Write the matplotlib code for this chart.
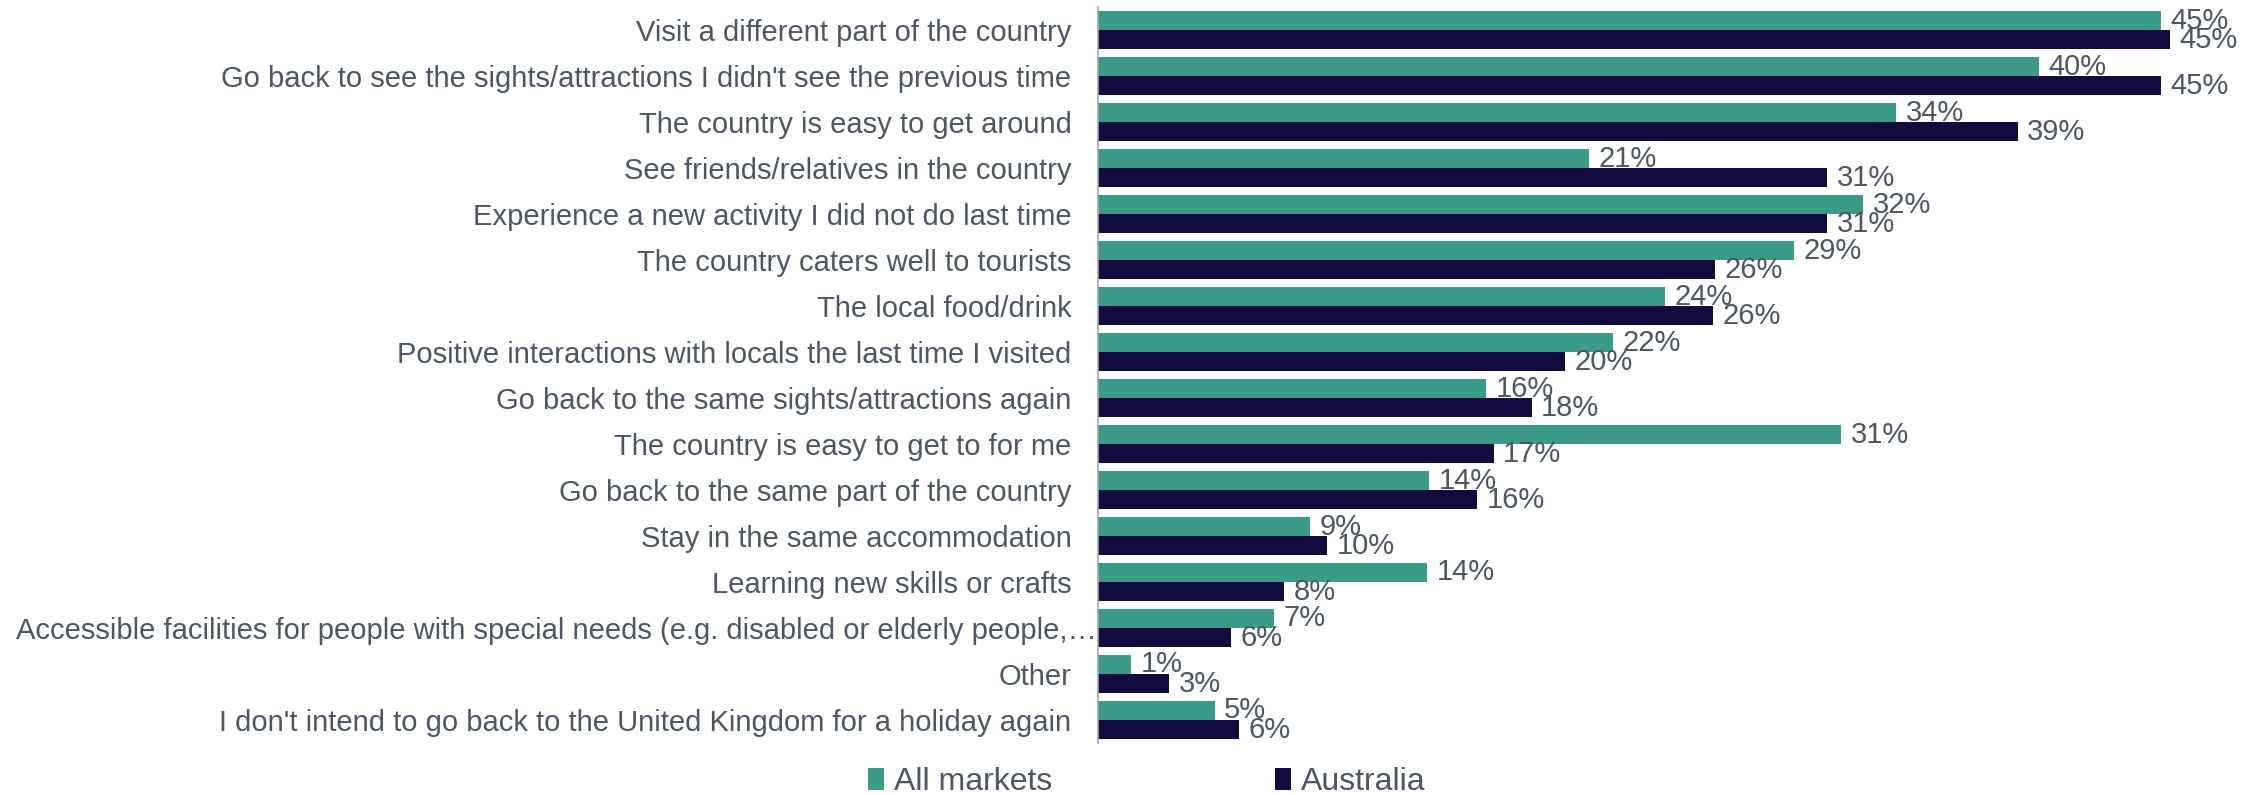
import matplotlib
matplotlib.use("Agg")
import matplotlib.pyplot as plt
import matplotlib.transforms as mtransforms
import numpy as np

plt.rcParams['font.family'] = ['Liberation Sans', 'DejaVu Sans']

categories = [
    "Visit a different part of the country",
    "Go back to see the sights/attractions I didn't see the previous time",
    "The country is easy to get around",
    "See friends/relatives in the country",
    "Experience a new activity I did not do last time",
    "The country caters well to tourists",
    "The local food/drink",
    "Positive interactions with locals the last time I visited",
    "Go back to the same sights/attractions again",
    "The country is easy to get to for me",
    "Go back to the same part of the country",
    "Stay in the same accommodation",
    "Learning new skills or crafts",
    "Accessible facilities for people with special needs (e.g. disabled or elderly people,\u2026",
    "Other",
    "I don't intend to go back to the United Kingdom for a holiday again",
]
all_markets = [44.6, 39.5, 33.5, 20.6, 32.1, 29.2, 23.8, 21.6, 16.3, 31.2, 13.9, 8.9, 13.8, 7.4, 1.4, 4.9]
australia = [45.0, 44.6, 38.6, 30.6, 30.6, 25.9, 25.8, 19.6, 18.2, 16.6, 15.9, 9.6, 7.8, 5.6, 3.0, 5.9]
series_names = ["All markets", "Australia"]

GREEN = "#3a9c88"
NAVY = "#130a40"
TEXT = "#4d5665"

fig = plt.figure(figsize=(22.62, 7.95), dpi=100)
ax = fig.add_axes([0.4854, 0.0654, 0.5046, 0.9256])

y = np.arange(len(categories))
h = 0.415
b1 = ax.barh(y - h / 2, all_markets, height=h, color=GREEN, label=series_names[0])
b2 = ax.barh(y + h / 2, australia, height=h, color=NAVY, label=series_names[1])

fs = 21
for bars, vals in ((b1, all_markets), (b2, australia)):
    for rect, v in zip(bars, vals):
        ax.text(rect.get_width() + 0.4, rect.get_y() + rect.get_height() / 2,
                f"{v:.0f}%", ha="left", va="center", fontsize=fs, color=TEXT)

ax.set_ylim(len(categories) - 0.5, -0.5)
ax.set_xlim(0, 47.9)
ax.set_yticks(y)
ax.set_yticklabels(categories, fontsize=fs, color=TEXT)
ax.tick_params(axis="y", length=0, pad=19)
# the over-long label overflows toward the axis, as in the source
long_lbl = ax.get_yticklabels()[13]
long_lbl.set_transform(long_lbl.get_transform() +
                       mtransforms.ScaledTranslation(25 / 100, 0, fig.dpi_scale_trans))
ax.set_xticks([])
for s in ["top", "right", "bottom"]:
    ax.spines[s].set_visible(False)
ax.spines["left"].set_color("#a6a6a6")
ax.spines["left"].set_linewidth(1.2)

leg = fig.legend(handles=[b1, b2], labels=series_names, loc="center",
                 bbox_to_anchor=(0.507, 0.016), ncol=2, frameon=False,
                 fontsize=23, handlelength=0.5, handleheight=0.7,
                 handletextpad=0.3, columnspacing=7.0)
for t in leg.get_texts():
    t.set_color(TEXT)

fig.savefig("out.png", dpi=100)
